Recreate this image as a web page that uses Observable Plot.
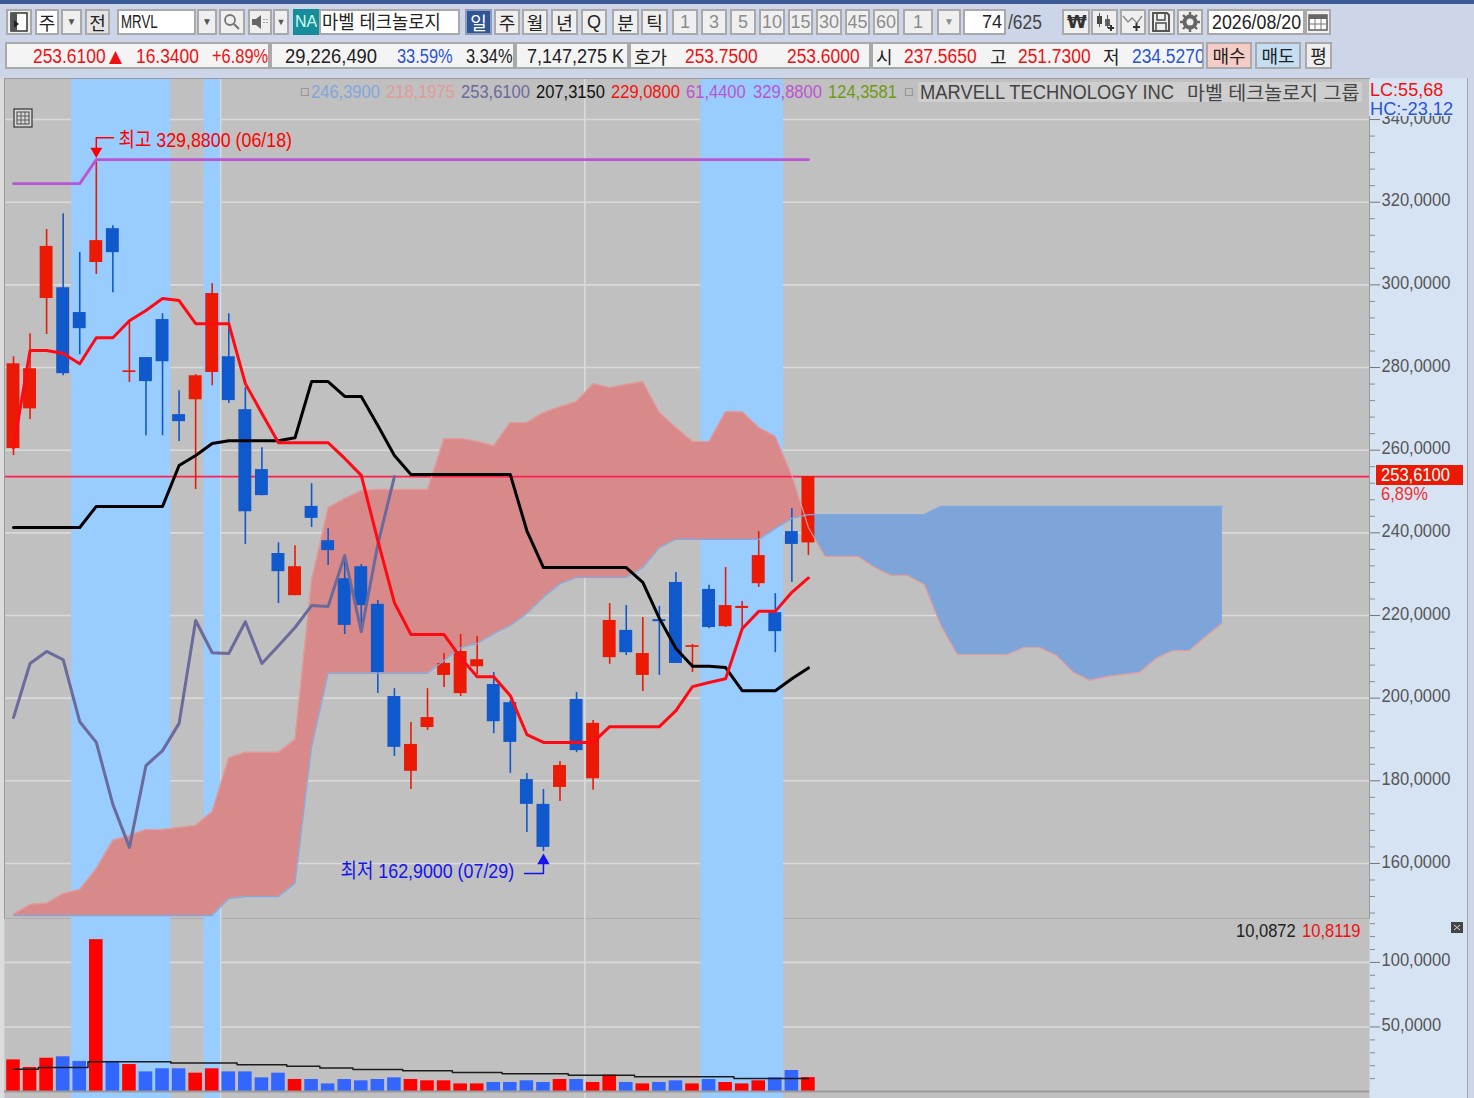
<!DOCTYPE html>
<html lang="ko">
<head>
<meta charset="utf-8">
<title>MRVL</title>
<script src="https://cdn.jsdelivr.net/npm/d3@7"></script>
<script src="https://cdn.jsdelivr.net/npm/@observablehq/plot@0.6"></script>
<style>
html,body{margin:0;padding:0;width:1474px;height:1098px;overflow:hidden;background:#ccd6e8;}
body{font-family:"Liberation Sans","Noto Sans CJK KR",sans-serif;position:relative;}
#topstrip{position:absolute;left:0;top:0;width:1474px;height:4px;background:#3c5a96;}
.t{position:absolute;white-space:pre;font-size:20px;line-height:24px;color:#222;transform-origin:0 0;}
.btn{position:absolute;box-sizing:border-box;border:2px solid #a9a9a9;background:#efefef;text-align:center;white-space:pre;font-size:18px;line-height:22px;color:#222;overflow:hidden;}
.grey{color:#8c8c8c;}
.white{background:#fff;}
svg.ic{position:absolute;}
#rightcol{position:absolute;left:1369px;top:78px;width:98px;height:1020px;background:#d6e3f3;border-right:1px solid #a4a4a4;}
#leftstrip{position:absolute;left:0;top:78px;width:4px;height:1020px;background:#dcdcdc;}
#price,#vol{position:absolute;left:0;}
#price{top:78px;}
#vol{top:918px;}
#price svg,#vol svg{display:block;background:transparent;}
</style>
</head>
<body>
<div id="topstrip"></div>
<div id="rightcol"></div>
<div id="leftstrip"></div>
<div id="price"></div>
<div id="vol"></div>
<div id="ui"></div>
<script>
// ---- candle values
const opens=[260.4,270.0,296.7,299.3,293.3,305.4,313.6,278.8,282.4,291.6,268.6,272.2,278.8,282.6,269.8,255.3,235.0,224.8,246.4,238.1,228.9,231.8,222.7,200.4,182.3,192.9,205.5,201.1,207.6,203.3,198.9,180.3,174.3,178.4,199.7,180.5,209.8,216.4,205.5,219.0,228.0,212.3,226.3,217.3,221.7,227.7,220.7,240.3,237.565];
const highs=[282.6,288.2,313.4,317.2,307.8,330.3,314.3,291.3,282.4,293.0,274.4,278.3,300.3,293.0,275.1,260.6,237.6,236.9,251.9,241.0,234.3,232.3,223.6,202.3,194.1,202.3,210.8,215.4,214.9,206.2,199.4,181.8,177.9,184.7,201.4,194.6,222.9,222.4,219.5,222.2,230.4,213.0,227.3,231.6,223.4,240.3,225.3,245.9,253.61];
const lows=[258.7,267.4,288.0,278.0,283.1,302.5,298.1,276.4,263.5,263.5,262.1,250.5,275.6,271.3,237.2,249.0,222.9,224.8,241.3,232.1,215.4,216.4,201.1,185.9,177.9,192.2,202.6,200.4,205.7,191.4,181.8,167.5,162.9,175.0,186.8,177.7,208.2,210.3,201.6,205.5,208.4,206.2,216.8,217.1,216.8,226.8,211.0,228.0,234.527];
const closes=[280.9,279.7,309.3,278.5,289.4,310.7,307.8,279.2,276.6,281.4,266.9,278.0,297.9,272.0,245.1,249.0,230.6,231.8,243.5,235.7,217.6,222.4,206.2,188.1,188.8,195.3,208.4,211.3,209.3,194.3,189.3,174.3,163.9,183.7,187.3,193.9,218.8,211.0,210.8,218.5,208.4,212.7,217.1,222.4,222.2,234.5,216.1,237.2,253.61];
// ---- ichimoku lines
const conversion=[260.6,284.1,284.1,283.4,280.9,287.2,287.2,291.3,293.8,296.7,296.2,290.6,290.6,290.6,276.1,268.9,261.8,261.8,261.8,261.8,258.0,253.9,238.1,223.1,215.4,215.4,215.4,209.8,205.2,205.2,200.6,191.2,189.3,189.3,189.3,189.3,193.1,193.1,193.1,193.1,197.0,202.8,203.8,204.7,216.8,221.0,221.0,225.6,229.08];
const baseLine=[241.3,241.3,241.3,241.3,241.3,246.4,246.4,246.4,246.4,246.4,256.3,258.7,261.6,262.3,262.3,262.3,262.3,263.0,276.6,276.6,273.0,273.0,266.0,258.7,254.1,254.1,254.1,254.1,254.1,254.1,254.1,240.5,231.6,231.6,231.6,231.6,231.6,231.6,228.0,219.3,212.0,207.7,207.7,207.4,201.8,201.8,201.8,204.7,207.315];
const lagging=[195.3,208.4,211.3,209.3,194.3,189.3,174.3,163.9,183.7,187.3,193.9,218.8,211.0,210.8,218.5,208.4,212.7,217.1,222.4,222.2,234.5,216.1,237.2,253.61];
const high52=[324.5,324.5,324.5,324.5,324.5,330.3,330.3,330.3,330.3,330.3,330.3,330.3,330.3,330.3,330.3,330.3,330.3,330.3,330.3,330.3,330.3,330.3,330.3,330.3,330.3,330.3,330.3,330.3,330.3,330.3,330.3,330.3,330.3,330.3,330.3,330.3,330.3,330.3,330.3,330.3,330.3,330.3,330.3,330.3,330.3,330.3,330.3,330.3,330.3];
const spanA=[147.4,147.4,147.4,147.4,147.4,147.4,147.4,147.4,147.4,147.4,147.4,147.4,147.4,151.5,152.0,152.0,152.0,155.2,188.1,206.0,206.0,206.0,206.0,206.0,206.0,206.0,209.1,212.2,213.2,215.6,217.6,220.5,224.4,227.7,229.2,229.2,229.2,229.2,231.6,236.4,238.4,238.4,238.4,238.4,238.4,238.4,241.0,243.5,244.4,244.4,244.4,244.4,244.4,244.4,244.4,244.4,246.39,246.39,246.39,246.39,246.39,246.39,246.39,246.39,246.39,246.39,246.39,246.39,246.39,246.39,246.39,246.39,246.39,246.39];
const spanB=[147.7,150.1,150.4,152.7,153.7,158.8,165.6,166.8,168.2,168.2,168.7,169.2,172.6,185.6,186.9,186.9,186.9,190.0,228.5,246.1,248.3,250.2,250.5,250.5,250.5,250.5,262.8,262.8,262.1,261.1,266.7,266.7,269.1,270.5,271.8,276.1,275.1,275.9,276.6,269.1,265.5,262.1,262.1,269.3,269.3,265.5,263.3,253.9,241.3,234.3,234.3,234.3,231.6,229.7,229.7,227.5,217.6,210.5,210.5,210.5,210.5,212.2,212.2,210.3,206.2,204.3,205.2,205.7,206.2,209.6,211.5,211.5,214.9,218.1975];
// ---- volume values
const volumes=[24.5,18.6,25.8,26.9,23.3,117.6,23.3,20.9,15.2,17.6,17.6,14.2,17.6,15.2,15.2,10.6,14.2,9.3,9.3,5.9,9.3,8.3,9.3,10.6,9.3,8.3,8.3,5.9,5.9,7.0,7.0,8.3,7.0,9.3,9.3,7.0,12.7,7.0,5.9,7.0,8.3,5.9,9.3,7.0,5.9,8.3,10.6,16.3,10.81];
const volumeMA=[17.3,17.3,18.6,18.6,18.6,23.0,23.0,23.0,23.0,23.0,22.0,22.0,22.0,22.0,20.7,20.7,20.7,19.6,19.6,18.3,18.3,17.1,17.1,17.1,16.0,16.0,16.0,14.7,14.7,14.7,13.7,13.7,13.7,13.7,12.7,12.7,12.7,12.7,11.4,11.4,11.4,11.4,11.4,11.4,10.0872,10.0872,10.0872,10.0872,10.0872];
// ---- bands, ticks, references
const bands=[[3.5,9.5],[11.5,12.5],[41.5,46.5]];
const vGrid=[12.5,34.5];
const priceTicks=[160,180,200,220,240,260,280,300,320,340];
const priceMinor=[148,152,156,164,168,172,176,184,188,192,196,204,208,212,216,224,228,232,236,244,248,252,256,264,268,272,276,284,288,292,296,304,308,312,316,324,328,332,336,344,348];
const volTicks=[50,100];
const volMinor=[10,20,30,40,60,70,80,90,110,120,130];
const lastPrice=253.61;
const highLabel="최고 329,8800 (06/18)";
const lowLabel="최저 162,9000 (07/29)";

const BLUE_BAND="#99ccff", RED="#ea1a05", BLUE="#1059cc";
const FONT='"Liberation Sans","Noto Sans CJK KR",sans-serif';
const SX=0.87;
const fmt=d=>d3.format(".4f")(d).replace(".",",");

const candles=opens.map((o,i)=>({i,o,h:highs[i],l:lows[i],c:closes[i],v:volumes[i]}));
const up=candles.filter(d=>d.c>=d.o), dn=candles.filter(d=>d.c<d.o);
const series=a=>a.map((v,i)=>({i,v}));

// split the cloud where the spans cross
const pink=[], blue=[];
spanA.forEach((a,i)=>{
  const b=spanB[i];
  (b>=a?pink:blue).push({i,a,b});
  if(i+1<spanA.length){
    const d0=b-a,d1=spanB[i+1]-spanA[i+1];
    if(d0*d1<0){const t=d0/(d0-d1),p={i:i+t,a:a+t*(spanA[i+1]-a),b:a+t*(spanA[i+1]-a)};pink.push(p);blue.push(p);}
  }
});
const bandRows=bands.map(([a,b])=>({a,b}));
// the reference's text is condensed: narrow every svg text around its own anchor
function condense(svg){
  svg.querySelectorAll("text").forEach(t=>{
    const x=+t.getAttribute("x")||0;
    t.setAttribute("transform",(t.getAttribute("transform")||"")+` translate(${x},0) scale(${SX},1) translate(${-x},0)`);
  });
  return svg;
}

const xScale={domain:[-0.543,81.88],range:[4,1369]};
const frameStroke="#9a9a9a";

const pricePlot=Plot.plot({
  width:1474,height:840,marginLeft:4,marginRight:105,marginTop:0,marginBottom:0,
  style:{fontFamily:FONT,fontSize:"19px",background:"transparent",overflow:"visible"},
  x:{...xScale,axis:null},
  y:{domain:[146.93,349.93],range:[839,0],axis:null},
  marks:[
    Plot.frame({fill:"#c0c0c0"}),
    Plot.ruleY(priceTicks,{stroke:"#dadada",strokeWidth:1.6}),
    Plot.ruleX(vGrid,{stroke:"#dadada",strokeWidth:1.6}),
    Plot.rectX(bandRows,{x1:"a",x2:"b",fill:BLUE_BAND}),
    Plot.areaY(pink,{x:"i",y1:"a",y2:"b",fill:"#d88a8a"}),
    Plot.areaY(blue,{x:"i",y1:"a",y2:"b",fill:"#7da5d9"}),
    Plot.ruleY([lastPrice],{stroke:"#ff1f4f",strokeWidth:1.6}),
    Plot.ruleX(up,{x:"i",y1:"l",y2:"h",stroke:RED,strokeWidth:1.6}),
    Plot.ruleX(dn,{x:"i",y1:"l",y2:"h",stroke:BLUE,strokeWidth:1.6}),
    Plot.rect(up,{x1:d=>d.i-0.39,x2:d=>d.i+0.39,y1:"o",y2:"c",fill:RED}),
    Plot.rect(dn,{x1:d=>d.i-0.39,x2:d=>d.i+0.39,y1:"o",y2:"c",fill:BLUE}),
    Plot.line(series(spanA),{x:"i",y:"v",stroke:"#7fa9e2",strokeWidth:1.2}),
    Plot.line(series(spanB),{x:"i",y:"v",stroke:"#e59a9a",strokeWidth:1.2}),
    Plot.line(series(high52),{x:"i",y:"v",stroke:"#b955d5",strokeWidth:2.8}),
    Plot.line(series(lagging),{x:"i",y:"v",stroke:"#6a6a9c",strokeWidth:3,strokeLinejoin:"round"}),
    Plot.line(series(baseLine),{x:"i",y:"v",stroke:"#000",strokeWidth:3,strokeLinejoin:"round"}),
    Plot.line(series(conversion),{x:"i",y:"v",stroke:"#ff0a14",strokeWidth:3,strokeLinejoin:"round"}),
    // high marker
    Plot.line([{x:6.04,y:335.6},{x:5,y:335.6},{x:5,y:333.1}],{x:"x",y:"y",stroke:"#f00",strokeWidth:1.5}),
    Plot.dot([{x:5,y:332.35}],{x:"x",y:"y",symbol:"triangle",r:4.4,fill:"#f00",rotate:180}),
    Plot.text([highLabel],{x:6.34,y:334.9,text:d=>d,textAnchor:"start",fill:"#f00",fontSize:20.5}),
    // low marker
    Plot.line([{x:30.86,y:157.6},{x:32,y:157.6},{x:32,y:160.3}],{x:"x",y:"y",stroke:"#1414f0",strokeWidth:1.5}),
    Plot.dot([{x:32,y:160.7}],{x:"x",y:"y",symbol:"triangle",r:4.6,fill:"#1414f0"}),
    Plot.text([lowLabel],{x:19.75,y:158.1,text:d=>d,textAnchor:"start",fill:"#1414f0",fontSize:20.5}),
    Plot.frame({stroke:frameStroke}),
    Plot.axisY(priceMinor,{anchor:"right",tickSize:5,stroke:"#8a8a8a",tickFormat:()=>"",label:null}),
    Plot.axisY(priceTicks,{anchor:"right",tickSize:10,stroke:"#777",tickFormat:()=>"",label:null}),
    Plot.axisY(priceTicks,{anchor:"right",tickSize:0,tickPadding:12,fill:"#555",tickFormat:fmt,label:null,fontSize:19,dy:-2})
  ]
});
document.getElementById("price").append(condense(pricePlot));

const volPlot=Plot.plot({
  width:1474,height:180,marginLeft:4,marginRight:105,marginTop:0,marginBottom:0,
  style:{fontFamily:FONT,fontSize:"19px",background:"transparent",overflow:"visible"},
  x:{...xScale,axis:null},
  y:{domain:[-5.4,134],range:[180,0],axis:null},
  marks:[
    Plot.frame({fill:"#c0c0c0"}),
    Plot.ruleY(volTicks,{stroke:"#dadada",strokeWidth:1.6}),
    Plot.ruleX(vGrid,{stroke:"#dadada",strokeWidth:1.6}),
    Plot.rectX(bandRows,{x1:"a",x2:"b",fill:BLUE_BAND}),
    Plot.rectY(up,{x1:d=>d.i-0.41,x2:d=>d.i+0.41,y1:0,y2:"v",fill:"#ff0000"}),
    Plot.rectY(dn,{x1:d=>d.i-0.41,x2:d=>d.i+0.41,y1:0,y2:"v",fill:"#3366ff"}),
    Plot.line(series(volumeMA),{x:"i",y:"v",stroke:"#1c1c1c",strokeWidth:1.5,curve:"step"}),
    Plot.ruleY([0],{stroke:"#9a9a9a",strokeWidth:2}),
    Plot.axisY(volMinor,{anchor:"right",tickSize:5,stroke:"#8a8a8a",tickFormat:()=>"",label:null}),
    Plot.axisY(volTicks,{anchor:"right",tickSize:10,stroke:"#777",tickFormat:()=>"",label:null}),
    Plot.axisY(volTicks,{anchor:"right",tickSize:0,tickPadding:12,fill:"#555",tickFormat:fmt,label:null,fontSize:19,dy:-2})
  ]
});
document.getElementById("vol").append(condense(volPlot));

// ---- toolbar, header and overlay labels
const ui=document.getElementById("ui");
function btn(txt,x1,x2,y,h,cls,css){const e=document.createElement("div");e.className="btn "+(cls||"");e.textContent=txt;e.style.cssText=`left:${x1}px;top:${y}px;width:${x2-x1}px;height:${h}px;${css||""}`;ui.append(e);return e;}
function lab(txt,x,y,color,css,sx){const e=document.createElement("div");e.className="t";e.textContent=txt;e.style.cssText=`left:${x}px;top:${y}px;color:${color||"#222"};transform:scaleX(${sx===undefined?SX:sx});${css||""}`;ui.append(e);return e;}
function icon(x,y,w,h,inner){const ns="http://www.w3.org/2000/svg",s=document.createElementNS(ns,"svg");s.setAttribute("class","ic");s.setAttribute("width",w);s.setAttribute("height",h);s.setAttribute("viewBox",`0 0 ${w} ${h}`);s.style.left=x+"px";s.style.top=y+"px";s.innerHTML=inner;ui.append(s);}
const K='font-family:"Noto Sans CJK KR",sans-serif;font-size:18px;';
const R1=9,H1=26,R2=42,H2=27;

btn("",6,32,R1,H1);
icon(9,R1+3,20,20,'<rect x="2" y="1" width="16" height="18" fill="#fff" stroke="#333" stroke-width="1.5"/><rect x="2" y="1" width="6" height="18" fill="#555"/><path d="M5 8l5 4-5 4z" fill="#222"/>');
btn("주",35,59,R1,H1,"white",K);
btn("▼",61,82,R1,H1,"","font-size:10px;color:#555;");
btn("전",85,110,R1,H1,"",K+"background:#e4e4e4;");
btn("",117,196,R1,H1,"white");
lab("MRVL",121,R1+1,"#222","font-size:19px;",0.7);
btn("▼",197,217,R1,H1,"","font-size:10px;color:#555;");
btn("",219,245,R1,H1);
icon(222,R1+4,20,18,'<circle cx="8" cy="7" r="5" fill="none" stroke="#777" stroke-width="1.8"/><path d="M12 11l5 5" stroke="#777" stroke-width="2.2"/>');
btn("",248,272,R1,H1);
icon(251,R1+5,18,16,'<path d="M1 5h4l5-4v14l-5-4H1z" fill="#666"/><path d="M13 5v1M13 8v1M16 5v1M16 8v1" stroke="#888" stroke-width="1.4"/>');
btn("▼",273,289,R1,H1,"","font-size:9px;color:#555;");
btn("NA",293,319,R1,H1,"","background:#178d9c;color:#cfe;font-size:16px;border-color:#178d9c;");
btn("",319,460,R1,H1,"white");
lab("마벨 테크놀로지",322,R1,"#222",'font-family:"Noto Sans CJK KR",sans-serif;font-size:19px;',0.93);
btn("일",465,492,R1,H1,"",K+"background:#2f5597;color:#fff;border-color:#8e9ab8;");
[["주",494,520],["월",522,548],["년",551,578]].forEach(([t,a,b])=>btn(t,a,b,R1,H1,"",K));
btn("Q",581,607,R1,H1);
btn("분",612,639,R1,H1,"",K);
btn("틱",641,668,R1,H1,"",K);
[["1",672,698],["3",701,727],["5",730,756],["10",759,785],["15",788,813],["30",816,842],["45",845,870],["60",873,899],["1",903,933]].forEach(([t,a,b])=>btn(t,a,b,R1,H1,"grey"));
btn("▼",937,961,R1,H1,"grey","font-size:10px;");
btn("74",963,1006,R1,H1,"white","text-align:right;padding-right:2px;");
lab("/625",1008,R1+1,"#444");
btn("",1062,1090,R1,H1);
lab("₩",1067,R1+1,"#333",'font-family:"DejaVu Sans";font-weight:bold;font-size:18px;',1);
btn("",1091,1118,R1,H1);
icon(1094,R1+3,22,20,'<rect x="3" y="4" width="5" height="8" fill="#444"/><rect x="11" y="7" width="5" height="7" fill="#666"/><path d="M5.5 1v14M13.5 3v13" stroke="#555"/><path d="M14 16h6M17 13v6" stroke="#333" stroke-width="2"/>');
btn("",1120,1146,R1,H1);
icon(1122,R1+3,22,20,'<path d="M1 4l5 6 4-4 5 5 5-7" fill="none" stroke="#888" stroke-width="1.4"/><path d="M11 15h7M14.5 11v8" stroke="#333" stroke-width="2"/>');
btn("",1148,1175,R1,H1);
icon(1151,R1+3,20,20,'<path d="M2 1h14l2 2v16H2z" fill="none" stroke="#555" stroke-width="2"/><rect x="6" y="1" width="8" height="7" fill="none" stroke="#555" stroke-width="1.6"/><rect x="5" y="11" width="10" height="8" fill="none" stroke="#555" stroke-width="1.6"/>');
btn("",1177,1203,R1,H1);
icon(1180,R1+3,20,20,'<circle cx="10" cy="10" r="5.5" fill="none" stroke="#666" stroke-width="4"/><path d="M10 0v4M10 16v4M0 10h4M16 10h4M3 3l3 3M14 14l3 3M3 17l3-3M14 6l3-3" stroke="#666" stroke-width="2.4"/>');
btn("",1207,1305,R1,H1,"white");
lab("2026/08/20",1212,R1+1,"#222","",0.89);
btn("",1305,1331,R1,H1);
icon(1308,R1+4,20,18,'<rect x="1" y="2" width="18" height="15" fill="#fff" stroke="#555" stroke-width="1.4"/><rect x="1" y="2" width="18" height="4" fill="#666"/><path d="M7 6v11M13 6v11M1 11h18" stroke="#777"/>');

btn("",5,270,R2,H2,"","background:#f4f4f4;");
btn("",270,515,R2,H2,"","background:#f4f4f4;");
btn("",515,629,R2,H2,"","background:#f4f4f4;");
btn("",629,871,R2,H2,"","background:#f4f4f4;");
btn("",871,1204,R2,H2,"","background:#f4f4f4;");
const Y2=R2+2, red="#f01010", blu="#2a55d8";
lab("253.6100",33,Y2,red);
lab("▲",109,Y2,red,'font-family:"DejaVu Sans";font-size:17px;',1);
lab("16.3400",136,Y2,red);
lab("+6.89%",212,Y2,red,"",0.82);
lab("29,226,490",285,Y2,"#222","",0.92);
lab("33.59%",397,Y2,blu,"",0.82);
lab("3.34%",466,Y2,"#222","",0.82);
lab("7,147,275 K",527,Y2,"#222","",0.9);
lab("호가",634,Y2,"#222",K,1);
lab("253.7500",685,Y2,red);
lab("253.6000",787,Y2,red);
lab("시",876,Y2,"#222",K,1);
lab("237.5650",904,Y2,red);
lab("고",990,Y2,"#222",K,1);
lab("251.7300",1018,Y2,red);
lab("저",1103,Y2,"#222",K,1);
lab("234.5270",1132,Y2,blu,"width:81px;overflow:hidden;");
btn("매수",1206,1252,R2,H2,"",K+"background:#f6cdc6;");
btn("매도",1255,1301,R2,H2,"",K+"background:#c4def4;");
btn("평",1305,1332,R2,H2,"",K+"background:#eeeeee;");

// chart legend
const YL=80, LF="font-size:19px;";
lab("□",300,YL,"#777",'font-family:"DejaVu Sans";font-size:10px;',1);
lab("246,3900",311,YL,"#82a6dc",LF);
lab("218,1975",386,YL,"#e29a9a",LF);
lab("253,6100",461,YL,"#6a6a9c",LF);
lab("207,3150",536,YL,"#111",LF);
lab("229,0800",611,YL,"#f81010",LF);
lab("61,4400",686,YL,"#b955d5",LF);
lab("329,8800",753,YL,"#b955d5",LF);
lab("124,3581",828,YL,"#6f9a10",LF);
lab("□",904,YL,"#777",'font-family:"DejaVu Sans";font-size:10px;',1);
const nm=document.createElement("div");nm.style.cssText="position:absolute;left:918px;top:82px;width:444px;height:20px;background:#cecece;";ui.append(nm);
lab("MARVELL TECHNOLOGY INC",920,YL,"#444",'font-size:19.5px;',0.94);
lab("마벨 테크놀로지 그룹",1187,YL,"#444",'font-family:"Noto Sans CJK KR",sans-serif;font-size:19.5px;',1);
// corner labels
const cv=document.createElement("div");cv.style.cssText="position:absolute;left:1369px;top:79px;width:98px;height:37px;background:#d6e3f3;";ui.append(cv);
lab("LC:55,68",1370,78,"#f01010","font-size:19px;",0.95);
lab("HC:-23,12",1370,97,"#2a55d8","font-size:19px;",0.96);
icon(13,108,20,20,'<rect x="1" y="1" width="18" height="18" fill="#d8d8d8" stroke="#333" stroke-width="1.2"/><rect x="4" y="4" width="12" height="12" fill="none" stroke="#444"/><path d="M8 4v12M12 4v12M4 8h12M4 12h12" stroke="#444" stroke-width=".8"/>');
// last price tag
const tag=document.createElement("div");tag.style.cssText="position:absolute;left:1376px;top:465px;width:87px;height:20px;background:#ea1a05;";ui.append(tag);
lab("253,6100",1381,463,"#fff","font-size:19px;");
lab("6,89%",1381,482,"#f03030","font-size:19px;");
// volume labels
lab("10,0872",1236,919,"#222","font-size:19px;");
lab("10,8119",1302,919,"#f01010","font-size:19px;");
icon(1451,922,12,11,'<rect width="12" height="11" fill="#444"/><path d="M3 3l6 5M9 3l-6 5" stroke="#ddd" stroke-width="1"/>');
</script>
</body>
</html>
